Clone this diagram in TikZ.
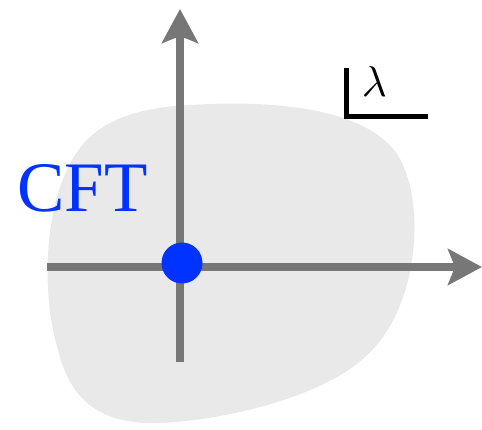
\documentclass[tikz,border=0pt]{standalone}
\usepackage{fontspec}
\newfontfamily\timesfont{Liberation Serif}
\usetikzlibrary{arrows.meta}
\definecolor{blobgray}{HTML}{E9E9E9}
\definecolor{axisgray}{HTML}{777777}
\definecolor{cftblue}{HTML}{0033FF}
\tikzset{
  axis/.style={draw=axisgray, line width=8pt, -{Stealth[length=34pt, width=36pt, inset=7pt]}},
}
\begin{document}
\begin{tikzpicture}[x=1pt,y=-1pt]
\useasboundingbox (0,0) rectangle (482,430);
\fill[blobgray] (190,105) .. controls (300,98) and (387,116) .. (405,170)
  .. controls (423,215) and (418,310) .. (365,357)
  .. controls (325,395) and (230,420) .. (160,423)
  .. controls (100,425) and (70,400) .. (58,350)
  .. controls (40,290) and (44,195) .. (80,148)
  .. controls (105,115) and (150,107) .. (190,105) -- cycle;
\coordinate (hl) at (47,267);
\coordinate (hr) at (482,267);
\coordinate (vb) at (180,362);
\coordinate (vt) at (180,9);
\draw[axis] (hl) -- (hr);
\draw[axis] (vb) -- (vt);
\node[circle, fill=cftblue, minimum size=41pt, inner sep=0pt] (dot) at (182,263) {};
\node[anchor=base west, inner sep=0pt, text=cftblue, font=\timesfont\fontsize{71}{71}\selectfont] (cft) at (17,212) {CFT};
\coordinate (lt) at (346,68);
\coordinate (lc) at (346,117);
\coordinate (lr) at (428,117);
\draw[line width=5pt] (lt) -- (lc) -- (lr);
\node[anchor=base west, inner sep=0pt, scale=4.3] (lam) at (361,97) {$\lambda$};
\end{tikzpicture}
\end{document}
